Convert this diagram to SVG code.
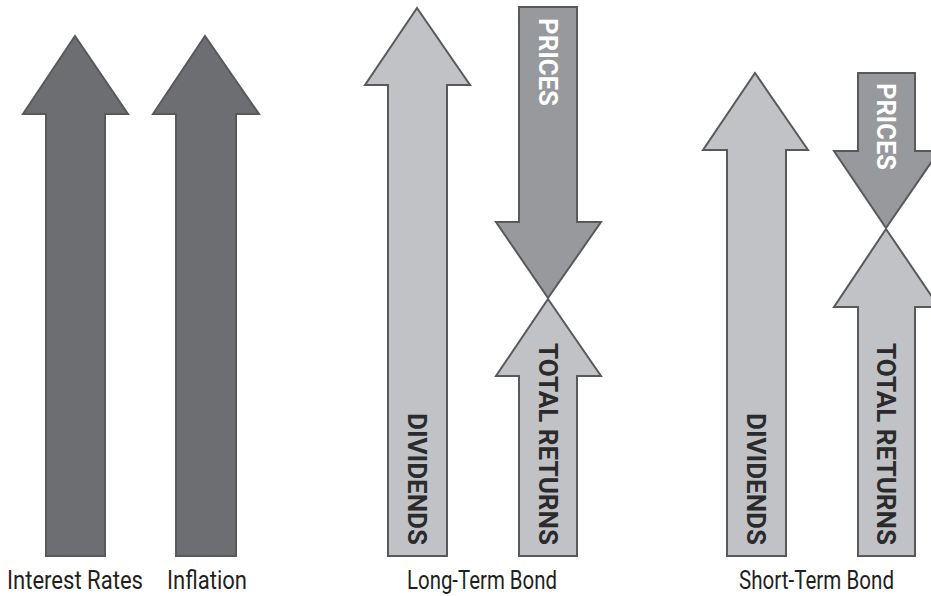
<svg xmlns="http://www.w3.org/2000/svg" width="931" height="596" viewBox="0 0 931 596">
<style>
.dark{fill:#6d6e71;stroke:#58595b;stroke-width:2;stroke-linejoin:miter}
.light{fill:#c1c2c5;stroke:#58595b;stroke-width:2;stroke-linejoin:miter}
.mid{fill:#98999c;stroke:#58595b;stroke-width:2;stroke-linejoin:miter}
.lbl{font-family:Roboto,"Liberation Sans",sans-serif;font-size:26px;fill:#231f20}
.in{font-family:Roboto,"Liberation Sans",sans-serif;font-size:26px;font-weight:bold;text-anchor:middle}
.dk{fill:#2b2b2d}
.wh{fill:#ffffff}
</style>
<rect width="931" height="596" fill="#ffffff"/>
<g id="interest-rates">
<polygon class="dark" points="75,36 128,114 105,114 105,556 46,556 46,114 23,114"/>
<text class="lbl" x="7" y="589" textLength="136" lengthAdjust="spacingAndGlyphs">Interest Rates</text>
</g>
<g id="inflation">
<polygon class="dark" points="205,36 259,114 236,114 236,556 176,556 176,114 153,114"/>
<text class="lbl" x="167" y="589" textLength="80" lengthAdjust="spacingAndGlyphs">Inflation</text>
</g>
<g id="lt-dividends">
<polygon class="light" points="417,8 470,85 447,85 447,556 388,556 388,85 365,85"/>
<text class="in dk" transform="translate(417,479) rotate(90)" x="0" y="9.5" textLength="132" lengthAdjust="spacingAndGlyphs">DIVIDENDS</text>
</g>
<g id="lt-prices">
<polygon class="mid" points="519,7 577,7 577,222 601,222 548,298 496,222 519,222"/>
<text class="in wh" transform="translate(548,62) rotate(90)" x="0" y="9.5" textLength="88" lengthAdjust="spacingAndGlyphs">PRICES</text>
</g>
<g id="lt-total-returns">
<polygon class="light" points="548,299 601,376 577,376 577,556 519,556 519,376 496,376"/>
<text class="in dk" transform="translate(548,444) rotate(90)" x="0" y="9.5" textLength="202" lengthAdjust="spacingAndGlyphs">TOTAL RETURNS</text>
</g>
<g id="lt-label">
<text class="lbl" x="407" y="589" textLength="150" lengthAdjust="spacingAndGlyphs">Long-Term Bond</text>
</g>
<g id="st-dividends">
<polygon class="light" points="755,73 808,150 786,150 786,556 727,556 727,150 703,150"/>
<text class="in dk" transform="translate(756,479) rotate(90)" x="0" y="9.5" textLength="132" lengthAdjust="spacingAndGlyphs">DIVIDENDS</text>
</g>
<g id="st-prices">
<polygon class="mid" points="858,73 915,73 915,151 939,151 886,228 834,151 858,151"/>
<text class="in wh" transform="translate(886,126.5) rotate(90)" x="0" y="9.5" textLength="87" lengthAdjust="spacingAndGlyphs">PRICES</text>
</g>
<g id="st-total-returns">
<polygon class="light" points="886,229 939,307 915,307 915,556 858,556 858,307 834,307"/>
<text class="in dk" transform="translate(886,444) rotate(90)" x="0" y="9.5" textLength="202" lengthAdjust="spacingAndGlyphs">TOTAL RETURNS</text>
</g>
<g id="st-label">
<text class="lbl" x="739" y="589" textLength="155" lengthAdjust="spacingAndGlyphs">Short-Term Bond</text>
</g>
</svg>
